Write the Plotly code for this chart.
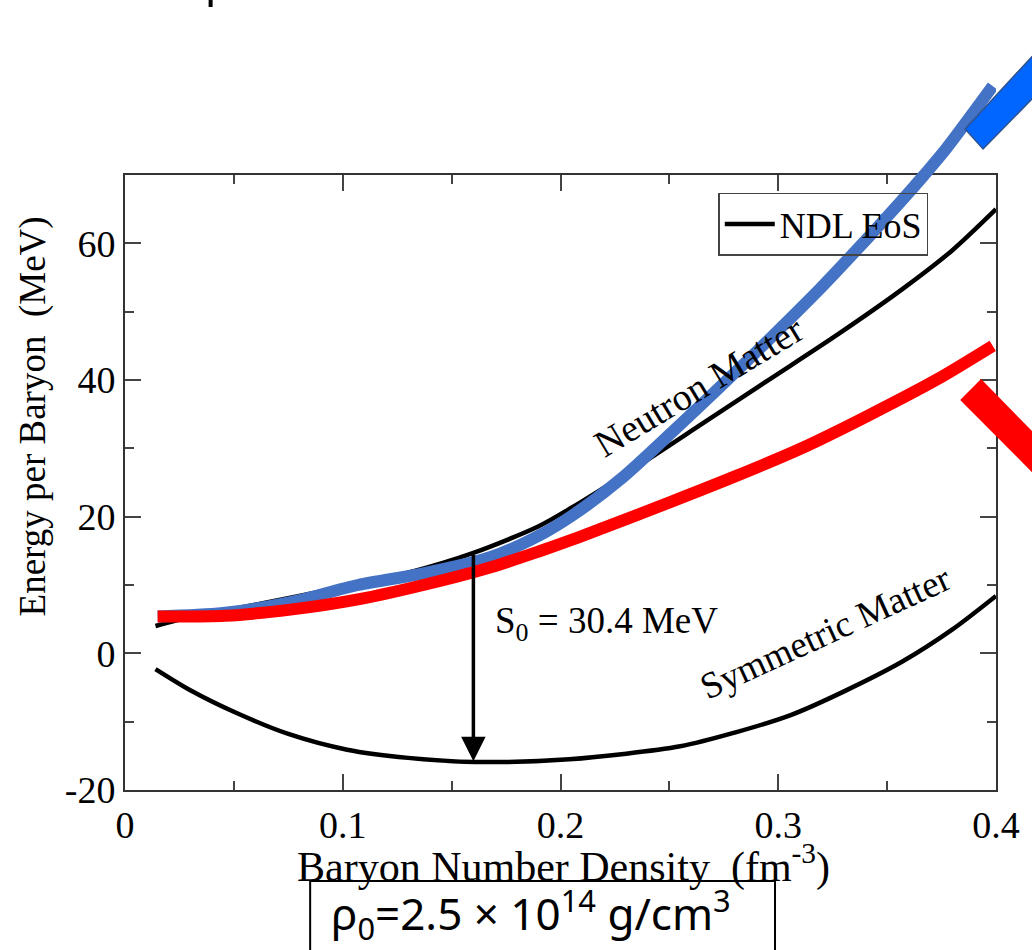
import plotly.graph_objects as go

# ---- data ----
density_neutron = [0.014, 0.03, 0.05, 0.08, 0.10, 0.13, 0.16, 0.19, 0.205, 0.235, 0.266, 0.296, 0.327, 0.357, 0.38, 0.40]
energy_neutron = [4.0, 5.3, 6.5, 8.4, 9.7, 11.8, 14.7, 18.6, 21.3, 27.3, 33.8, 40.1, 46.6, 53.3, 59.0, 65.0]

density_symmetric = [0.014, 0.03, 0.051, 0.075, 0.102, 0.13, 0.161, 0.204, 0.255, 0.28, 0.306, 0.33, 0.357, 0.38, 0.40]
energy_symmetric = [-2.3, -5.4, -8.7, -11.8, -14.1, -15.3, -15.9, -15.5, -13.6, -11.6, -9.0, -5.6, -1.2, 3.5, 8.4]

density_blue = [0.015, 0.045, 0.076, 0.107, 0.137, 0.168, 0.19, 0.206, 0.228, 0.251, 0.274, 0.296, 0.319, 0.342, 0.356, 0.367, 0.377, 0.3985]
energy_blue = [5.4, 5.9, 7.5, 10.0, 11.7, 14.1, 17.2, 20.3, 25.6, 32.3, 39.2, 46.0, 53.3, 61.1, 66.0, 70.0, 73.8, 83.0]

density_red = [0.015, 0.046, 0.076, 0.107, 0.137, 0.168, 0.19, 0.206, 0.22, 0.251, 0.281, 0.312, 0.342, 0.373, 0.3985]
energy_red = [5.4, 5.5, 6.4, 7.9, 10.0, 12.6, 14.9, 16.7, 18.4, 22.2, 26.0, 30.2, 34.9, 40.1, 45.0]

x_ticks = [0, 0.1, 0.2, 0.3, 0.4]
x_ticktext = ["0", "0.1", "0.2", "0.3", "0.4"]
y_ticks = [-20, 0, 20, 40, 60]
y_ticktext = ["-20", "0", "20", "40", "60"]

S0_density = 0.16
S0_top = 14.6
S0_bottom = -15.8

SERIF = "Liberation Serif, Times New Roman, serif"
SANS = "Noto Sans, Open Sans, sans-serif"

# layout expressed in screen pixels (page body margin is removed below)
W, H = 1032, 950
SCR_LEFT, SCR_RIGHT, SCR_TOP_EXT, SCR_BOTTOM = 125, 1000, 50, 790
MAIN_TOP = 175
ML = SCR_LEFT
MR = W - SCR_RIGHT
MT = SCR_TOP_EXT
MB = H - SCR_BOTTOM
PW = SCR_RIGHT - SCR_LEFT
PH = SCR_BOTTOM - SCR_TOP_EXT
main_frac = (SCR_BOTTOM - MAIN_TOP) / PH


def px2paper(sx, sy):
    return (sx - SCR_LEFT) / PW, (SCR_BOTTOM - sy) / PH


fig = go.Figure()

fig.add_trace(go.Scatter(
    x=density_neutron, y=energy_neutron, mode="lines",
    line=dict(color="black", width=4.5, shape="spline", smoothing=0.8), name="NDL EoS",
    legendgroup="ndl", showlegend=True, xaxis="x", yaxis="y"))
fig.add_trace(go.Scatter(
    x=density_symmetric, y=energy_symmetric, mode="lines",
    line=dict(color="black", width=4.5, shape="spline", smoothing=0.8), name="NDL EoS",
    legendgroup="ndl", showlegend=False, xaxis="x", yaxis="y"))

fig.add_trace(go.Scatter(
    x=density_blue, y=energy_blue, mode="lines",
    line=dict(color="#4472C4", width=12, shape="spline", smoothing=0.8), showlegend=False,
    xaxis="x2", yaxis="y2"))
fig.add_trace(go.Scatter(
    x=density_red, y=energy_red, mode="lines",
    line=dict(color="#FF0000", width=12, shape="spline", smoothing=0.8), showlegend=False,
    xaxis="x2", yaxis="y2"))

axis_common = dict(
    showline=True, linecolor="#333333", linewidth=2, mirror="allticks",
    ticks="inside", ticklen=16, tickwidth=1.5, tickcolor="#444444",
    showgrid=False, zeroline=False,
    tickfont=dict(family=SERIF, size=38, color="black"),
)

lx, _ = px2paper(721, 0)
_, ly = px2paper(0, 224)
fig.update_layout(
    width=W, height=H,
    margin=dict(l=ML, r=MR, t=MT, b=MB),
    paper_bgcolor="white", plot_bgcolor="rgba(0,0,0,0)",
    xaxis=dict(range=[0, 0.4], domain=[0, 1], anchor="y",
               tickvals=x_ticks, ticktext=x_ticktext,
               minor=dict(dtick=0.05, ticklen=9, ticks="inside", tickcolor="#444444", tickwidth=1.5),
               **axis_common),
    yaxis=dict(range=[-20, 70], domain=[0, main_frac], anchor="x",
               tickvals=y_ticks, ticktext=y_ticktext,
               minor=dict(dtick=10, ticklen=9, ticks="inside", tickcolor="#444444", tickwidth=1.5),
               **axis_common),
    xaxis2=dict(range=[0, 0.4], domain=[0, 1], anchor="y2", visible=False),
    yaxis2=dict(range=[-20, -20 + 90 / main_frac], domain=[0, 1], anchor="x2", visible=False),
    showlegend=True,
    legend=dict(
        x=lx, y=ly, xanchor="left", yanchor="middle",
        bgcolor="rgba(0,0,0,0)", bordercolor="#444444", borderwidth=1.5,
        font=dict(family=SERIF, size=36, color="black"),
        itemwidth=50, tracegroupgap=0,
    ),
)

annotations = []
# vertical S0 arrow
annotations.append(dict(
    x=S0_density, y=S0_bottom, ax=S0_density, ay=S0_top,
    xref="x", yref="y", axref="x", ayref="y",
    text="", showarrow=True, arrowhead=2, arrowsize=1.4, arrowwidth=3.5,
    arrowcolor="black", standoff=0, startstandoff=0))
annotations.append(dict(
    x=0.169, y=4.4, xref="x", yref="y", xanchor="left", yanchor="middle",
    text="S<sub>0</sub> = 30.4 MeV", showarrow=False,
    font=dict(family=SERIF, size=37, color="black")))
annotations.append(dict(
    x=0.2638, y=39.1, xref="x", yref="y", text="Neutron Matter",
    textangle=-31, showarrow=False,
    font=dict(family=SERIF, size=38, color="black")))
annotations.append(dict(
    x=0.3214, y=3.1, xref="x", yref="y", text="Symmetric Matter",
    textangle=-24.6, showarrow=False,
    font=dict(family=SERIF, size=37, color="black")))
# axis titles
tx, ty = px2paper(33, 416)
annotations.append(dict(
    x=tx, y=ty, xref="paper", yref="paper", text="Energy per Baryon\u00a0 (MeV)",
    textangle=-90, showarrow=False, xanchor="center", yanchor="middle",
    font=dict(family=SERIF, size=37, color="black")))
tx, ty = px2paper(566, 864)
annotations.append(dict(
    x=tx, y=ty, xref="paper", yref="paper",
    text="Baryon Number Density\u00a0 (fm<sup>-3</sup>)",
    showarrow=False, xanchor="center", yanchor="middle",
    font=dict(family=SERIF, size=42, color="black")))
# boxed density label
tx, ty = px2paper(330, 914)
annotations.append(dict(
    x=tx, y=ty, xref="paper", yref="paper",
    text="ρ<sub>0</sub>=2.5 × 10<sup>14</sup> g/cm<sup>3</sup>",
    showarrow=False, xanchor="left", yanchor="middle",
    font=dict(family=SANS, size=44, color="black")))
fig.update_layout(annotations=annotations)


def path_from_px(points):
    parts = []
    for i, (sx, sy) in enumerate(points):
        X, Y = px2paper(sx, sy)
        parts.append(("M" if i == 0 else "L") + f"{X:.5f},{Y:.5f}")
    return " ".join(parts) + " Z"


shapes = []
# blue block arrow fragment (top right)
shapes.append(dict(type="path", xref="paper", yref="paper",
                   path=path_from_px([(969, 129), (987, 149), (1045, 90), (1045, 47)]),
                   fillcolor="#0066FF", line=dict(color="#2F528F", width=1.5), layer="above"))
# red block arrow fragment (right)
shapes.append(dict(type="path", xref="paper", yref="paper",
                   path=path_from_px([(985, 379), (1045, 440), (1045, 481), (964, 400)]),
                   fillcolor="#FF0000", line=dict(width=0), layer="above"))
# box around density label
x0, y1 = px2paper(311, 881)
x1, y0 = px2paper(778, 1010)
shapes.append(dict(type="rect", xref="paper", yref="paper", x0=x0, x1=x1, y0=y0, y1=y1,
                   line=dict(color="black", width=2), fillcolor="rgba(0,0,0,0)", layer="above"))
# tiny cut-off mark at top
x0, y1 = px2paper(209, -2)
x1, y0 = px2paper(213, 7)
shapes.append(dict(type="rect", xref="paper", yref="paper", x0=x0, x1=x1, y0=y0, y1=y1,
                   line=dict(width=0), fillcolor="black", layer="above"))
fig.update_layout(shapes=shapes)

fig.write_html(
    "out.html",
    config={"displayModeBar": False},
    post_script="document.body.style.margin='0';document.body.style.overflow='hidden';",
)
